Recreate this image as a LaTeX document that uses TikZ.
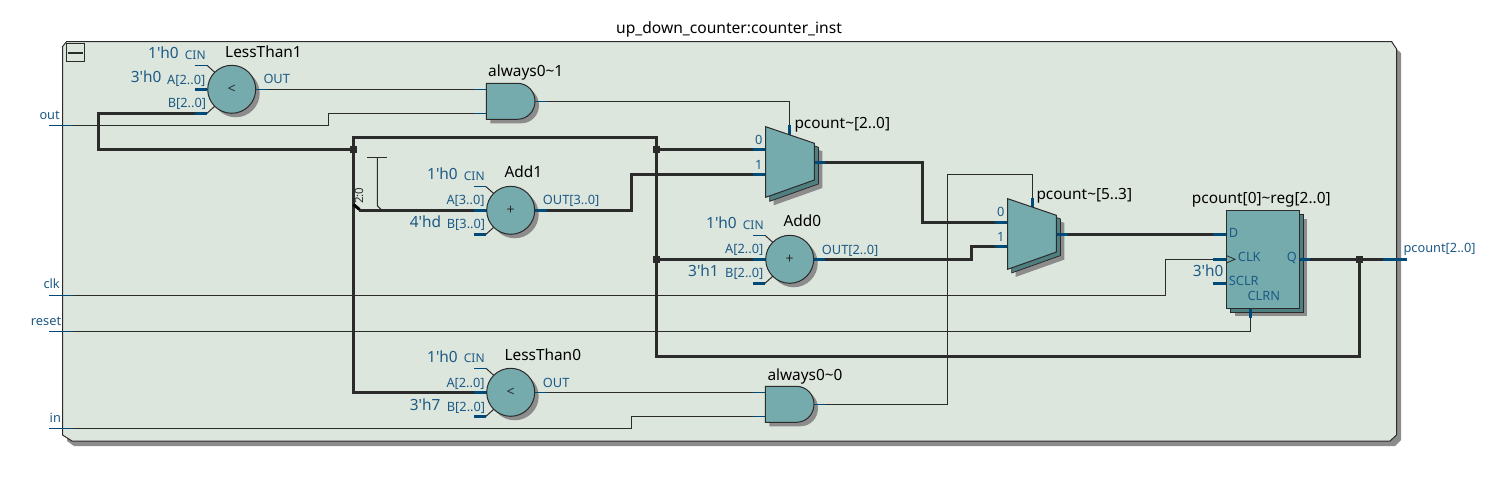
\documentclass[tikz,border=0pt]{standalone}
\usepackage{fontspec}
\setmainfont{Noto Sans}
\newfontfamily\nf{Noto Sans}
\definecolor{bgc}{HTML}{DDE6DD}
\definecolor{teal}{HTML}{75ABAD}
\definecolor{dteal}{HTML}{4F7F80}
\definecolor{shad}{HTML}{8C8C8C}
\definecolor{wirec}{HTML}{2B2B2B}
\definecolor{pinc}{HTML}{004A78}
\definecolor{txtb}{HTML}{1C5A85}
\tikzset{
 thinw/.style={draw=wirec,line width=1pt},
 thickw/.style={draw=wirec,line width=3pt,line join=miter},
 pinthick/.style={draw=pinc,line width=3pt},
 pinthin/.style={draw=pinc,line width=1pt},
 body/.style={draw=wirec,line width=1pt,fill=teal},
 lab/.style={anchor=base west,inner sep=0pt,text=txtb,font=\nf\fontsize{12.8}{14}\selectfont},
 cin/.style={anchor=base west,inner sep=0pt,text=txtb,font=\nf\fontsize{12}{14}\selectfont},
 val/.style={anchor=base west,inner sep=0pt,text=txtb,font=\nf\fontsize{15.4}{17}\selectfont},
 inst/.style={anchor=base west,inner sep=0pt,text=black,font=\nf\fontsize{15.4}{17}\selectfont},
 compar/.style={circle,minimum size=48pt,inner sep=0pt,draw=wirec,line width=1pt,fill=teal,font=\nf\fontsize{14}{15}\selectfont,text=wirec},
 shcirc/.style={circle,minimum size=48pt,inner sep=0pt,fill=shad},
 junc/.style={rectangle,minimum size=7pt,inner sep=0pt,fill=wirec},
}
\newcommand{\gateshape}[3]{\path[#3,shift={(#1,#2)}] (0,0) -- (31,0) .. controls (41,0) and (48.7,8) .. (48.7,18) .. controls (48.7,28) and (41,36) .. (31,36) -- (0,36) -- cycle;}
\newcommand{\muxshape}[3]{\path[#3,shift={(#1,#2)}] (0,0) -- (48.7,16.6) -- (48.7,53.3) -- (0,70.6) -- cycle;}
\begin{document}
\begin{tikzpicture}[x=1pt,y=-1pt]
\useasboundingbox (0,0) rectangle (1494,478);
% frame
\fill[shad] (67,46) -- (1393,46) -- (1401,53) -- (1401,440) -- (1395,446) -- (74,446) -- (67,441) -- cycle;
\draw[draw=wirec,line width=1pt,fill=bgc] (66.5,41.7) -- (1391.7,41.7) -- (1396.5,49) -- (1396.5,435) -- (1390,441) -- (72,441) -- (62.5,435) -- (62.5,46.7) -- cycle;
\node[draw=wirec,line width=1pt,minimum width=18.5pt,minimum height=18pt,inner sep=0pt] (collapse) at (75.3,53) {};
\draw[wirec,line width=2.5pt] ([xshift=2pt]collapse.west) -- ([xshift=-2pt]collapse.east);
\node[anchor=base,inner sep=0pt,text=black,font=\nf\fontsize{15.6}{17}\selectfont] (title) at (729,33.7) {up\_down\_counter:counter\_inst};
% shadows
\node[shcirc] at (235.7,93.3) {};
\node[shcirc] at (514.7,214.3) {};
\node[shcirc] at (793.7,263.3) {};
\node[shcirc] at (514.7,396.3) {};
\gateshape{490.3}{87.3}{fill=shad}
\gateshape{769.3}{390.3}{fill=shad}
\muxshape{773.7}{134.7}{fill=shad}
\muxshape{769.7}{130.7}{fill=dteal,draw=wirec,line width=.8pt}
\muxshape{1015.7}{206.3}{fill=shad}
\muxshape{1011.7}{202.3}{fill=dteal,draw=wirec,line width=.8pt}
\fill[shad] (1234.7,218.7) rectangle (1307.3,316.3);
\path[fill=dteal,draw=wirec,line width=.8pt] (1230.7,214.7) rectangle (1303.3,312.3);
% named points
\coordinate (outin) at (49,125.3);
\coordinate (clkin) at (49,295.5);
\coordinate (resetin) at (49,331.3);
\coordinate (inin) at (49,428.3);
\coordinate (ltoneA) at (195,89.3);
\coordinate (ltoneB) at (195,113.3);
\coordinate (ltoneC) at (195,65.3);
\coordinate (ltoneO) at (255.7,89.3);
\coordinate (gaoneA) at (486.3,89.3);
\coordinate (gaoneB) at (486.3,113.3);
\coordinate (gaoneO) at (535,101.3);
\coordinate (muxoneS) at (789.7,125);
\coordinate (muxoneZ) at (765.7,149.3);
\coordinate (muxoneO) at (765.7,174.3);
\coordinate (muxoneQ) at (814.4,162.3);
\coordinate (muxtwoS) at (1032.3,198);
\coordinate (muxtwoZ) at (1007.7,222.3);
\coordinate (muxtwoO) at (1007.7,246.3);
\coordinate (muxtwoQ) at (1056.4,234.3);
\coordinate (regD) at (1226.7,234.3);
\coordinate (regC) at (1226.7,259.3);
\coordinate (regS) at (1226.7,283.3);
\coordinate (regR) at (1250.3,308.3);
\coordinate (regQ) at (1299.3,259.3);
\coordinate (outp) at (1406.7,259.3);
\coordinate (gazA) at (765.3,392.3);
\coordinate (gazB) at (765.3,416.3);
\coordinate (gazO) at (814,404.3);
\coordinate (addoneA) at (486.7,210.3);
\coordinate (addoneO) at (534.7,210.3);
\coordinate (addzA) at (765.7,259.3);
\coordinate (addzO) at (813.7,259.3);
\coordinate (ltzA) at (486.7,392.3);
\coordinate (ltzO) at (534.7,392.3);
\coordinate (jA) at (353.3,149.3);
\coordinate (jB) at (656,149.3);
\coordinate (jC) at (656,259.3);
\coordinate (jD) at (1359.3,259.3);
% thin wires
\draw[thinw] (outin) -- (328.5,125.3) -- (328.5,113.3) -- (gaoneB);
\draw[thinw] (ltoneO) -- (gaoneA);
\draw[thinw] (gaoneO) -- (789.7,101.3) -- (muxoneS);
\draw[thinw] (gazO) -- (947.3,404.3) -- (947.3,174.3) -- (1032.3,174.3) -- (muxtwoS);
\draw[thinw] (clkin) -- (1165.7,295.5) -- (1165.7,259.3) -- (regC);
\draw[thinw] (resetin) -- (1250.3,331.3) -- (regR);
\draw[thinw] (inin) -- (631.7,428.3) -- (631.7,416.3) -- (gazB);
\draw[thinw] (ltzO) -- (gazA);
% bus-ripper stub
\coordinate (stubT) at (377.3,157.7);
\coordinate (stubB) at (377.3,205.7);
\draw[thinw] (367.3,157.7) -- (387.3,157.7);
\draw[thinw] (stubT) -- (stubB) -- (382,210.3);
% thick wires
\draw[thickw] (ltoneB) -- (98.7,113.3) -- (98.7,149.3) -- (jA);
\draw[thickw] (ltzA) -- (353.3,392.3) -- (353.3,137.3) -- (656,137.3) -- (656,356.3) -- (1359.3,356.3) -- (jD);
\draw[thickw] (jB) -- (muxoneZ);
\draw[thickw] (jC) -- (addzA);
\draw[thickw] (359.3,210.3) -- (addoneA);
\draw[thickw] (addoneO) -- (631.7,210.3) -- (631.7,174.3) -- (muxoneO);
\draw[thickw] (muxoneQ) -- (922.7,162.3) -- (922.7,222.3) -- (muxtwoZ);
\draw[thickw] (addzO) -- (971,259.3) -- (971,246.3) -- (muxtwoO);
\draw[thickw] (muxtwoQ) -- (regD);
\draw[thickw] (regQ) -- (outp);
% junctions and ripper
\node[junc] (ja) at (jA) {};
\node[junc] (jb) at (jB) {};
\node[junc] (jc) at (jC) {};
\node[junc] (jd) at (jD) {};
\draw[black,line width=3pt] (353.5,204.5) -- (359.5,209.5);
% blue pin stubs
\draw[pinthin] (outin) -- (73,125.3);
\draw[pinthin] (clkin) -- (73,295.5);
\draw[pinthin] (resetin) -- (73,331.3);
\draw[pinthin] (inin) -- (73,428.3);
\draw[pinthin] (ltoneO) -- (267.7,89.3);
\draw[pinthick] (ltoneA) -- (207,89.3);
\draw[pinthick] (ltoneB) -- (207,113.3);
\draw[pinthin] (ltoneC) -- (207,65.3);
\draw[thinw] (207,65.3) -- (214.7,72.3);
\draw[thinw] (207,113.3) -- (214.7,106.3);
\draw[pinthin] (474.3,89.3) -- (gaoneA);
\draw[pinthin] (474.3,113.3) -- (gaoneB);
\draw[pinthin] (gaoneO) -- (547,101.3);
\draw[pinthin] (753.3,392.3) -- (gazA);
\draw[pinthin] (753.3,416.3) -- (gazB);
\draw[pinthin] (gazO) -- (826,404.3);
\draw[pinthin] (474,186.7) -- (486,186.7);
\draw[pinthick] (474,210.3) -- (addoneA);
\draw[pinthick] (474,234.3) -- (486,234.3);
\draw[pinthick] (addoneO) -- (547,210.3);
\draw[pinthin] (753,235.3) -- (765,235.3);
\draw[pinthick] (753,259.3) -- (addzA);
\draw[pinthick] (753,283.3) -- (765,283.3);
\draw[pinthick] (addzO) -- (825,259.3);
\draw[pinthin] (474,368.3) -- (486,368.3);
\draw[pinthick] (474,392.3) -- (ltzA);
\draw[pinthick] (474,416.3) -- (486,416.3);
\draw[pinthin] (ltzO) -- (547,392.3);
\draw[pinthick] (muxoneS) -- (789.7,135);
\draw[pinthick] (753,149.3) -- (muxoneZ);
\draw[pinthick] (753,174.3) -- (muxoneO);
\draw[pinthick] (muxoneQ) -- (825,162.3);
\draw[pinthick] (muxtwoS) -- (1032.3,207);
\draw[pinthick] (995,222.3) -- (muxtwoZ);
\draw[pinthick] (995,246.3) -- (muxtwoO);
\draw[pinthick] (muxtwoQ) -- (1068,234.3);
\draw[pinthick] (1213.3,234.3) -- (regD);
\draw[pinthick] (1213.3,259.3) -- (regC);
\draw[pinthick] (1213.3,283.3) -- (regS);
\draw[pinthick] (regR) -- (1250.3,318.3);
\draw[pinthick] (regQ) -- (1310,259.3);
\draw[pinthick] (1383,259.3) -- (outp);
% CIN / B diagonals
\draw[thinw] (486,186.7) -- (493.7,193.5);
\draw[thinw] (486,234.3) -- (493.7,227.3);
\draw[thinw] (765,235.3) -- (772.7,242.3);
\draw[thinw] (765,283.3) -- (772.7,276.3);
\draw[thinw] (486,368.3) -- (493.7,375.3);
\draw[thinw] (486,416.3) -- (493.7,409.3);
% bodies
\node[compar] (ltone) at (231.7,89.3) {<};
\node[compar] (addone) at (510.7,210.3) {+};
\node[compar] (addz) at (789.7,259.3) {+};
\node[compar] (ltz) at (510.7,392.3) {<};
\gateshape{486.3}{83.3}{body}
\gateshape{765.3}{386.3}{body}
\muxshape{765.7}{126.7}{body}
\muxshape{1007.7}{198.7}{body}
\node[body,minimum width=72.6pt,minimum height=97.6pt,inner sep=0pt] (reg) at (1263,259.5) {};
\draw[wirec,line width=.8pt] (1226.7,255.7) -- (1235,259.3) -- (1226.7,262.9);
% labels
\node[lab] (lout) at (39.3,119.7) {out};
\node[lab] (lclk) at (43.3,289) {clk};
\node[lab] (lreset) at (30.7,325.5) {reset};
\node[lab] (lin) at (49.5,422.7) {in};
\node[inst] (n1) at (225,58) {LessThan1};
\node[val] (n2) at (148,59) {1'h0};
\node[cin] (n3) at (184.7,60) {CIN};
\node[val] (n4) at (130.7,83) {3'h0};
\node[lab] (n5) at (167,84.7) {A[2..0]};
\node[lab] (n6) at (167.6,108) {B[2..0]};
\node[lab] (n7) at (263.3,84) {OUT};
\node[inst] (n8) at (488,77) {always0\textasciitilde1};
\node[inst] (n9) at (504.3,177.7) {Add1};
\node[val] (n10) at (427,180) {1'h0};
\node[cin] (n11) at (463.7,180.7) {CIN};
\node[lab] (n12) at (446.3,205) {A[3..0]};
\node[val] (n13) at (409.7,227.7) {4'hd};
\node[lab] (n14) at (446.7,229) {B[3..0]};
\node[lab] (n15) at (542.7,205) {OUT[3..0]};
\node[inst] (n16) at (794.3,128.3) {pcount\textasciitilde[2..0]};
\node[lab] (n17) at (755,145) {0};
\node[lab] (n18) at (755,169.3) {1};
\node[inst] (n19) at (1036.3,200) {pcount\textasciitilde[5..3]};
\node[lab] (n20) at (997,217) {0};
\node[lab] (n21) at (997,241.7) {1};
\node[inst] (n22) at (783.3,226.7) {Add0};
\node[val] (n23) at (706,229) {1'h0};
\node[cin] (n24) at (742.7,230) {CIN};
\node[lab] (n25) at (725,254) {A[2..0]};
\node[val] (n26) at (688,277) {3'h1};
\node[lab] (n27) at (725,278) {B[2..0]};
\node[lab] (n28) at (821.7,254.3) {OUT[2..0]};
\node[inst] (n29) at (1191.7,203.3) {pcount[0]\textasciitilde reg[2..0]};
\node[lab] (n30) at (1228.7,238) {D};
\node[lab] (n31) at (1237.7,262) {CLK};
\node[lab] (n32) at (1286.7,262) {Q};
\node[val] (n33) at (1192.7,276.7) {3'h0};
\node[lab] (n34) at (1228.7,285.7) {SCLR};
\node[lab] (n35) at (1247.3,300.7) {CLRN};
\node[lab] (n36) at (1403.3,252.5) {pcount[2..0]};
\node[inst] (n37) at (504.3,360) {LessThan0};
\node[val] (n38) at (427,362) {1'h0};
\node[cin] (n39) at (463.7,362.7) {CIN};
\node[lab] (n40) at (446.3,387.3) {A[2..0]};
\node[val] (n41) at (409.7,410) {3'h7};
\node[lab] (n42) at (446.7,411) {B[2..0]};
\node[lab] (n43) at (542.7,387) {OUT};
\node[inst] (n44) at (767.3,380) {always0\textasciitilde0};
\node[anchor=base west,inner sep=0pt,text=wirec,rotate=90,font=\nf\fontsize{11.5}{13}\selectfont] (n45) at (363,204) {2:0};
\end{tikzpicture}
\end{document}
